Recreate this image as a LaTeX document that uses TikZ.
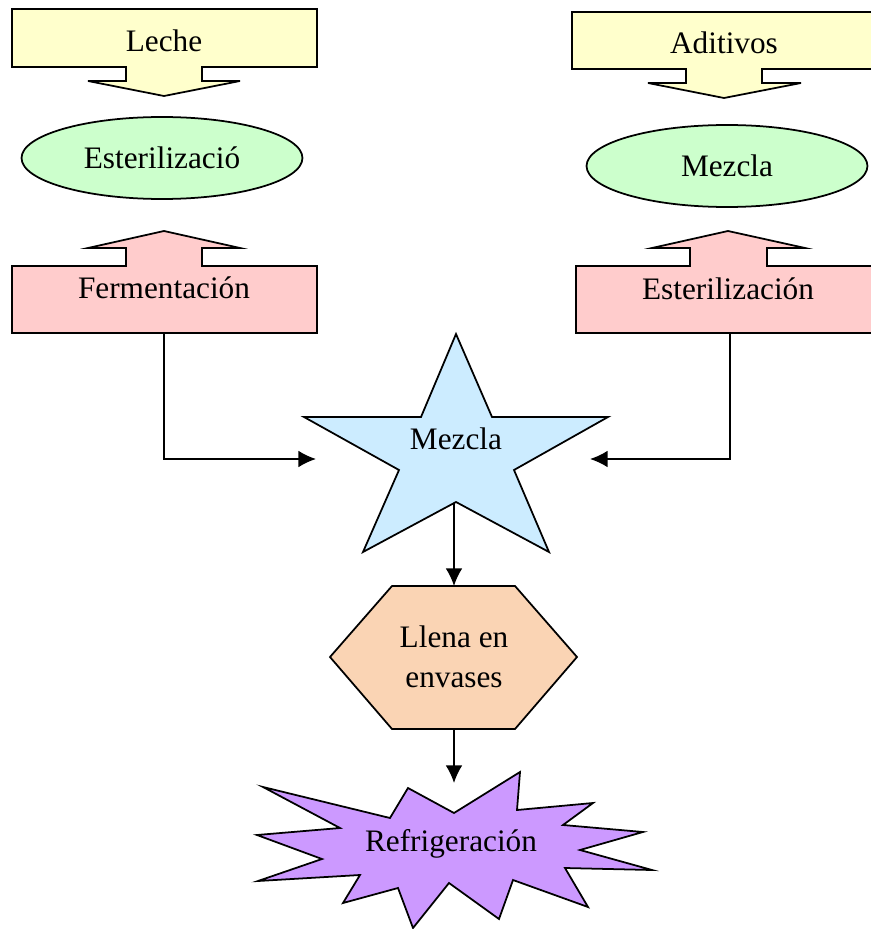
\documentclass[tikz,border=0pt]{standalone}
\usepackage{fontspec}
\setmainfont{Liberation Serif}
\usetikzlibrary{shapes.geometric,arrows.meta}
\definecolor{amarillo}{HTML}{FFFFCC}
\definecolor{verde}{HTML}{CCFFCC}
\definecolor{rosa}{HTML}{FFCCCC}
\definecolor{celeste}{HTML}{CCECFF}
\definecolor{durazno}{HTML}{FAD4B4}
\definecolor{lila}{HTML}{CC99FF}
\begin{document}
\begin{tikzpicture}[x=0.02cm,y=-0.02cm,>={Latex[length=10pt,width=9.5pt]},line width=1pt,
every node/.style={font=\fontsize{17.8}{22.7}\selectfont},
elipse/.style={ellipse,draw,fill=verde,minimum width=5.62cm,minimum height=1.64cm}]
\useasboundingbox(0,0) rectangle(870,929);
\begin{scope}
\draw[fill=amarillo](12,9)--(317,9)--(317,67)--(202,67)--(202,81)--(240,81)--(164,96)--(88,81)--(126,81)--(126,67)--(12,67)--cycle;
\node(leche) at(164,41){Leche};
\node[elipse](ester1) at(162,158){Esterilizació};
\draw[fill=rosa](12,333)--(317,333)--(317,266)--(202,266)--(202,248)--(240,248)--(164,231)--(88,248)--(126,248)--(126,266)--(12,266)--cycle;
\node(ferm) at(164,288){Fermentación};
\end{scope}
\begin{scope}
\draw[fill=amarillo](572,12)--(876,12)--(876,69)--(762,69)--(762,83)--(801,83)--(724,98)--(648,83)--(686,83)--(686,69)--(572,69)--cycle;
\node(aditivos) at(724,43){Aditivos};
\node[elipse](mezcla1) at(727,166){Mezcla};
\draw[fill=rosa](576,333)--(880,333)--(880,266)--(767,266)--(767,248)--(805,248)--(728,231)--(652,248)--(690,248)--(690,266)--(576,266)--cycle;
\node(ester2) at(728,289){Esterilización};
\end{scope}
\draw[fill=celeste](456,334)--(492,417)--(608,417)--(514,470)--(549,552)--(456,502)--(363,552)--(399,470)--(304,417)--(421,417)--cycle;
\node(mezcla2) at(456,439){Mezcla};
\draw[fill=durazno](330,657)--(392,586)--(515,586)--(577,657)--(515,729)--(392,729)--cycle;
\node[align=center](llena) at(454,657){Llena en\\envases};
\draw[fill=lila](263,787)--(390,818)--(408,788)--(454,813)--(520,772)--(517,810)--(593,803)--(563,825)--(643,832)--(580,850)--(652,870)--(565,868)--(588,907)--(513,880)--(499,919)--(449,883)--(413,928)--(398,888)--(343,903)--(360,875)--(258,881)--(322,859)--(257,835)--(340,828)--cycle;
\node(refri) at(451,844){Refrigeración};
\coordinate(fermb) at(164,333);
\coordinate(esterb) at(730,333);
\coordinate(izq) at(316,459);
\coordinate(der) at(590,459);
\coordinate(estrellab) at(454,503);
\coordinate(hexa) at(454,586);
\coordinate(hexb) at(454,729);
\coordinate(explo) at(454,783);
\draw[->](fermb)|-(izq);
\draw[->](esterb)|-(der);
\draw[->](estrellab)--(hexa);
\draw[->](hexb)--(explo);
\end{tikzpicture}
\end{document}
